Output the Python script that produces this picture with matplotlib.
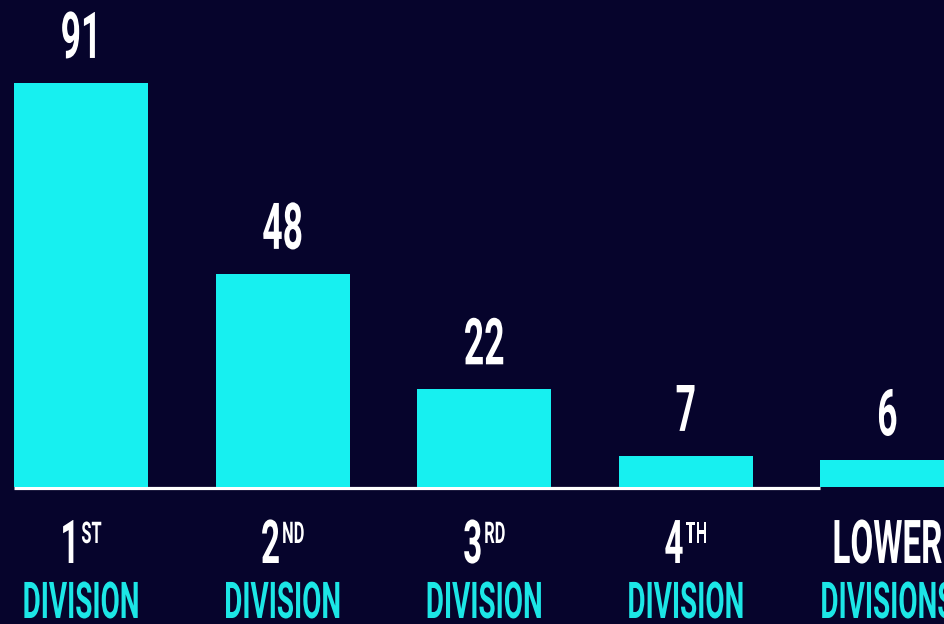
import matplotlib
matplotlib.use("Agg")
import matplotlib.pyplot as plt
from matplotlib.patheffects import AbstractPathEffect
from matplotlib.transforms import Affine2D, blended_transform_factory

# ---- data ----
values = [91, 48, 22, 7, 6]
main_labels = ["1", "2", "3", "4", "LOWER"]
sup_labels = ["ST", "ND", "RD", "TH", ""]
sub_labels = ["DIVISION", "DIVISION", "DIVISION", "DIVISION", "DIVISIONS"]

# ---- style ----
BG = "#06042c"
CYAN = "#17f0f0"
CYAN_TXT = "#1ce6e6"
WHITE = "#ffffff"
FONT = "Roboto"
SX = 0.55          # overall horizontal squeeze of the condensed look
K = SX             # text is set at K * size and stretched vertically by 1/K


class Stretch(AbstractPathEffect):
    """Stretch a text path vertically about its baseline (keeps it real text)."""

    def __init__(self, sx=1.0, sy=1.0):
        super().__init__()
        self.sx = sx
        self.sy = sy

    def draw_path(self, renderer, gc, tpath, affine, rgbFace=None):
        ext = tpath.get_extents()
        cx = 0.5 * (ext.x0 + ext.x1)
        t = Affine2D().translate(-cx, 0).scale(self.sx, self.sy).translate(cx, 0) + affine
        renderer.draw_path(gc, tpath, t, rgbFace)


def fx():
    return [Stretch(SX / K, 1.0 / K)]


W, H, DPI = 945, 624, 100
fig = plt.figure(figsize=(W / DPI, H / DPI), dpi=DPI, facecolor=BG)
ax = fig.add_axes([0, 0, 1, 1])
ax.set_facecolor(BG)
ax.axis("off")

step_px = 201.6
c0_px = 81
ppu = 4.44
base_px = 137
ax.set_xlim(-c0_px / step_px, (W - c0_px) / step_px)
ax.set_ylim(-base_px / ppu, (H - base_px) / ppu)

x = list(range(len(values)))
bw = 134 / step_px
ax.bar(x, values, width=bw, color=CYAN, zorder=3)

# baseline from first bar's left edge to last bar's left edge
ax.plot([x[0] - bw / 2, x[-1] - bw / 2], [-0.3, -0.3], color=WHITE,
        lw=2.3, solid_capstyle="butt", zorder=2)

# value labels
for xi, v in zip(x, values):
    ax.annotate(str(v), xy=(xi, v), xytext=(0, 18), textcoords="offset points",
                ha="center", va="baseline", color=WHITE, fontsize=46.5 * K,
                family=FONT, weight="bold", path_effects=fx(), zorder=4)

# category labels
trans = blended_transform_factory(ax.transData, fig.transFigure)
main_texts, sup_texts = [], []
for xi, m, s, d in zip(x, main_labels, sup_labels, sub_labels):
    mt = ax.text(xi, 61 / H, m, transform=trans, ha="center", va="baseline",
                 color=WHITE, fontsize=43.5 * K, family=FONT, weight="bold",
                 path_effects=fx())
    st = None
    if s:
        st = ax.text(xi, 81 / H, s, transform=trans, ha="center", va="baseline",
                     color=WHITE, fontsize=21.5 * K, family=FONT, weight="bold",
                     path_effects=fx())
    main_texts.append(mt)
    sup_texts.append(st)
    ax.text(xi, 6 / H, d, transform=trans, ha="center", va="baseline",
            color=CYAN_TXT, fontsize=36.5 * K, family=FONT, weight="bold",
            path_effects=fx())

# center main+superscript groups under bars
fig.canvas.draw()
r = fig.canvas.get_renderer()
inv = ax.transData.inverted()
gap = 2
for xi, mt, st in zip(x, main_texts, sup_texts):
    if st is None:
        continue
    cpx = ax.transData.transform((xi, 0))[0]
    wm = mt.get_window_extent(r).width * SX / K
    ws = st.get_window_extent(r).width * SX / K
    left = cpx - (wm + gap + ws) / 2
    mt.set_x(inv.transform((left + wm / 2, 0))[0])
    st.set_x(inv.transform((left + wm + gap + ws / 2, 0))[0])

fig.savefig("out.png", dpi=DPI, facecolor=BG)
